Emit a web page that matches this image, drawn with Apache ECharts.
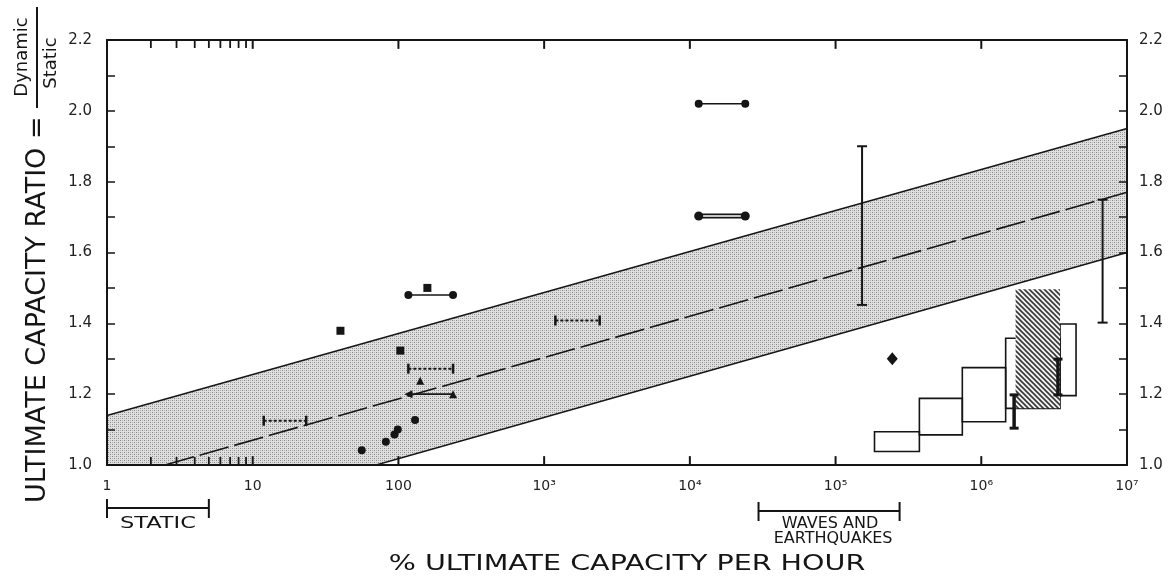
<!DOCTYPE html>
<html>
<head>
<meta charset="utf-8">
<script src="https://cdn.jsdelivr.net/npm/echarts@6/dist/echarts.min.js"></script>
<style>
  html, body { margin: 0; padding: 0; background: #fff; }
  #chart { width: 1175px; height: 582px; }
</style>
</head>
<body>
<div id="chart"></div>
<script>
// axis ticks and labels
var xMinorTicks = [2, 3, 4, 5, 6, 7, 8, 9]
var xMajorTicks = [10, 100, 1000, 1e4, 1e5, 1e6]
var xLabelValues = [1, 10, 100, 1000, 1e4, 1e5, 1e6, 1e7]
var xLabelText = ['1', '10', '100', '10³', '10⁴', '10⁵', '10⁶', '10⁷']
var yTickValues = [1.0, 1.1, 1.2, 1.3, 1.4, 1.5, 1.6, 1.7, 1.8, 1.9, 2.0, 2.1, 2.2]
var yBottom = 1.0
var yTop = 2.2

// shaded band and trend line
var bandX = [1, 1e7]
var bandUpper = [1.14, 1.95]
var bandLower = [0.785, 1.60]
var trendX = [2.5, 1e7]
var trendY = [1.0, 1.77]

// single points
var dots = [[56, 1.042], [82, 1.066], [94, 1.086], [99, 1.10], [130, 1.127]]
var squares = [[40, 1.379], [103, 1.323], [158, 1.50]]
var triangles = [[141, 1.238]]
var diamonds = [[245000, 1.30]]

// paired points [xFrom, xTo, y]
var circlePairs = [[117, 237, 1.48], [11500, 24000, 2.02]]
var doublePair = [11500, 24000, 1.703]
var trianglePair = [117, 237, 1.20]
var dottedRanges = [[11.9, 23.3, 1.125], [117, 237, 1.272], [1194, 2405, 1.408]]

// vertical ranges [x, yLow, yHigh]
var thinBars = [[152000, 1.452, 1.90], [6.8e6, 1.402, 1.749]]
var thickBars = [[1.68e6, 1.104, 1.198], [3.36e6, 1.198, 1.299]]

// open boxes and hatched block [xFrom, xTo, yLow, yHigh]
var boxes = [
  [1.85e5, 3.76e5, 1.038, 1.094],
  [3.76e5, 7.41e5, 1.085, 1.188],
  [7.41e5, 1.47e6, 1.122, 1.275],
  [1.47e6, 3.47e6, 1.16, 1.358],
  [3.47e6, 4.47e6, 1.196, 1.398]
]
var hatched = [[1.72e6, 3.47e6, 1.16, 1.496]]

// ranges under the x axis
var staticRange = [1, 5]
var wavesRange = [2.96e4, 2.75e5]

var ink = '#151515'
var font = 'DejaVu Sans'

function makeStipple () {
  var c = document.createElement('canvas')
  c.width = 4
  c.height = 4
  var g = c.getContext('2d')
  g.fillStyle = '#e0e0e0'
  g.fillRect(0, 0, 4, 4)
  g.fillStyle = '#858585'
  g.fillRect(0, 0, 1, 1)
  g.fillRect(2, 2, 1, 1)
  g.fillStyle = '#b0b0b0'
  g.fillRect(2, 0, 1, 1)
  g.fillRect(0, 2, 1, 1)
  return c
}

function makeHatch () {
  var c = document.createElement('canvas')
  c.width = 5
  c.height = 5
  var g = c.getContext('2d')
  g.fillStyle = '#f2f2f2'
  g.fillRect(0, 0, 5, 5)
  g.strokeStyle = '#383838'
  g.lineWidth = 1.6
  g.beginPath()
  g.moveTo(-1, -1); g.lineTo(6, 6)
  g.moveTo(-1, 4); g.lineTo(1, 6)
  g.moveTo(4, -1); g.lineTo(6, 1)
  g.stroke()
  return c
}

function rectItem (fill, stroke) {
  return function (params, api) {
    var p0 = api.coord([api.value(0), api.value(3)])
    var p1 = api.coord([api.value(1), api.value(2)])
    return {
      type: 'rect',
      shape: { x: p0[0], y: p0[1], width: p1[0] - p0[0], height: p1[1] - p0[1] },
      style: { fill: fill, stroke: stroke, lineWidth: 1.6 }
    }
  }
}

function pairLine (x0, x1, y) {
  return [[x0, y], [x1, y]]
}

var xAxisBase = {
  type: 'log',
  logBase: 10,
  min: 1,
  max: 1e7,
  z: 5,
  axisLine: { lineStyle: { color: ink, width: 2 } },
  axisTick: { show: false },
  minorTick: { show: false },
  splitLine: { show: false }
}

var yAxisBase = {
  type: 'value',
  min: yBottom,
  max: yTop,
  interval: 0.2,
  z: 5,
  axisLine: { show: true, lineStyle: { color: ink, width: 2 } },
  axisTick: { show: true, inside: true, length: 8, customValues: yTickValues, lineStyle: { color: ink, width: 1.5 } },
  splitLine: { show: false }
}

var stipple = makeStipple()
var series = []

// band fill between lower and upper edge
series.push({
  type: 'custom',
  data: bandX.map(function (x, i) { return [x, bandLower[i], bandUpper[i]] }),
  encode: { x: 0, y: [1, 2] },
  clip: true,
  renderItem: function (params, api) {
    if (params.dataIndex !== 0) return
    var pts = []
    bandX.forEach(function (x, i) { pts.push(api.coord([x, bandLower[i]])) })
    for (var i = bandX.length - 1; i >= 0; i--) pts.push(api.coord([bandX[i], bandUpper[i]]))
    return {
      type: 'polygon',
      shape: { points: pts },
      style: { fill: { image: stipple, repeat: 'repeat' } }
    }
  },
  z: 1
})
// band edges
series.push({
  type: 'line',
  data: bandX.map(function (x, i) { return [x, bandLower[i]] }),
  symbol: 'none',
  lineStyle: { color: ink, width: 1.5 },
  z: 2
})
series.push({
  type: 'line',
  data: bandX.map(function (x, i) { return [x, bandUpper[i]] }),
  symbol: 'none',
  lineStyle: { color: ink, width: 1.5 },
  z: 2
})
// trend line
series.push({
  type: 'line',
  data: trendX.map(function (x, i) { return [x, trendY[i]] }),
  symbol: 'none',
  lineStyle: { color: ink, width: 1.6, type: [30, 6] },
  z: 2
})

// decade ticks, top and bottom, as short vertical lines through the scale
xMajorTicks.forEach(function (v) {
  series.push({
    type: 'line',
    data: [[v, yBottom], [v, yBottom + 0.025]],
    symbol: 'none',
    lineStyle: { color: ink, width: 2 },
    clip: false,
    silent: true,
    z: 9
  })
  series.push({
    type: 'line',
    data: [[v, yTop], [v, yTop - 0.025]],
    symbol: 'none',
    lineStyle: { color: ink, width: 2 },
    clip: false,
    silent: true,
    z: 9
  })
})

// open boxes
series.push({
  type: 'custom',
  data: boxes,
  encode: { x: [0, 1], y: [2, 3] },
  renderItem: rectItem('none', ink),
  clip: true,
  z: 3
})
// hatched block
series.push({
  type: 'custom',
  data: hatched,
  encode: { x: [0, 1], y: [2, 3] },
  renderItem: rectItem({ image: makeHatch(), repeat: 'repeat' }, null),
  clip: true,
  z: 4
})

// vertical ranges
thinBars.forEach(function (b) {
  series.push({
    type: 'line',
    data: [[b[0], b[1]], [b[0], b[2]]],
    symbol: 'rect',
    symbolSize: [10, 2],
    itemStyle: { color: ink },
    lineStyle: { color: ink, width: 2 },
    z: 5
  })
})
thickBars.forEach(function (b) {
  series.push({
    type: 'line',
    data: [[b[0], b[1]], [b[0], b[2]]],
    symbol: 'rect',
    symbolSize: [9, 3],
    itemStyle: { color: ink },
    lineStyle: { color: ink, width: 3.5 },
    z: 5
  })
})

// dotted horizontal ranges with end caps
dottedRanges.forEach(function (r) {
  series.push({
    type: 'line',
    data: pairLine(r[0], r[1], r[2]),
    symbol: 'rect',
    symbolSize: [2.5, 10],
    itemStyle: { color: ink },
    lineStyle: { color: ink, width: 2, type: [3, 2] },
    z: 5
  })
})

// circle pairs
circlePairs.forEach(function (r) {
  series.push({
    type: 'line',
    data: pairLine(r[0], r[1], r[2]),
    symbol: 'circle',
    symbolSize: 8,
    itemStyle: { color: ink },
    lineStyle: { color: ink, width: 1.6 },
    z: 5
  })
})

// double line pair
series.push({
  type: 'line',
  data: pairLine(doublePair[0], doublePair[1], doublePair[2]),
  symbol: 'none',
  lineStyle: { color: ink, width: 5 },
  z: 5
})
series.push({
  type: 'line',
  data: pairLine(doublePair[0], doublePair[1], doublePair[2]),
  symbol: 'none',
  lineStyle: { color: '#fff', width: 1.6 },
  z: 6
})
series.push({
  type: 'scatter',
  data: pairLine(doublePair[0], doublePair[1], doublePair[2]),
  symbol: 'circle',
  symbolSize: 9,
  itemStyle: { color: ink, opacity: 1 },
  z: 7
})

// triangle pair
series.push({
  type: 'line',
  data: [
    { value: [trianglePair[0], trianglePair[2]], symbolRotate: 90 },
    { value: [trianglePair[1], trianglePair[2]] }
  ],
  symbol: 'triangle',
  symbolSize: 8,
  itemStyle: { color: ink },
  lineStyle: { color: ink, width: 1.6 },
  z: 5
})

// scattered points
var solid = { color: ink, opacity: 1 }
series.push({ type: 'scatter', data: dots, symbol: 'circle', symbolSize: 8, itemStyle: solid, z: 6 })
series.push({ type: 'scatter', data: squares, symbol: 'rect', symbolSize: 8, itemStyle: solid, z: 6 })
series.push({ type: 'scatter', data: triangles, symbol: 'triangle', symbolSize: 8, itemStyle: solid, z: 6 })
series.push({ type: 'scatter', data: diamonds, symbol: 'diamond', symbolSize: [11, 13], itemStyle: solid, z: 6 })

var option = {
  animation: false,
  backgroundColor: '#fff',
  grid: { left: 107, right: 48, top: 40, bottom: 117 },
  xAxis: [
    Object.assign({}, xAxisBase, {
      position: 'bottom',
      axisLabel: {
        customValues: xLabelValues,
        margin: 14,
        color: '#222',
        fontSize: 14,
        fontFamily: font,
        formatter: function (v) {
          var i = xLabelValues.indexOf(v)
          return i >= 0 ? xLabelText[i] : ''
        }
      }
    }),
    Object.assign({}, xAxisBase, {
      position: 'top',
      axisLabel: { show: false }
    })
  ],
  yAxis: [
    Object.assign({}, yAxisBase, {
      position: 'left',
      axisLabel: { margin: 15, color: '#222', fontSize: 15, fontFamily: font, formatter: function (v) { return v.toFixed(1) } }
    }),
    Object.assign({}, yAxisBase, {
      position: 'right',
      axisLabel: { margin: 12, color: '#222', fontSize: 15, fontFamily: font, formatter: function (v) { return v.toFixed(1) } }
    })
  ],
  series: series
}

var chart = echarts.init(document.getElementById('chart'))
chart.setOption(option)

// pixel positions from the chart's own scales
function px (v) { return chart.convertToPixel({ xAxisIndex: 0 }, v) }
function py (v) { return chart.convertToPixel({ yAxisIndex: 0 }, v) }

var sx0 = px(staticRange[0])
var sx1 = px(staticRange[1])
var wx0 = px(wavesRange[0])
var wx1 = px(wavesRange[1])
var yb = py(yBottom)
var yt = py(yTop)
var lineSt = { stroke: ink, lineWidth: 2 }

function bracket (x0, x1, y) {
  return [
    { type: 'line', shape: { x1: x0, y1: y, x2: x1, y2: y }, style: lineSt },
    { type: 'line', shape: { x1: x0, y1: y - 9, x2: x0, y2: y + 10 }, style: lineSt },
    { type: 'line', shape: { x1: x1, y1: y - 9, x2: x1, y2: y + 10 }, style: lineSt }
  ]
}

// minor ticks of the first decade, pointing inward
var tickGraphics = []
xMinorTicks.forEach(function (v) {
  var x = px(v)
  var st = { stroke: ink, lineWidth: 1.8 }
  tickGraphics.push({ type: 'line', z: 100, shape: { x1: x, y1: yb, x2: x, y2: yb - 8 }, style: st })
  tickGraphics.push({ type: 'line', z: 100, shape: { x1: x, y1: yt, x2: x, y2: yt + 8 }, style: st })
})

var graphics = [].concat(
  tickGraphics,
  bracket(sx0, sx1, 508),
  bracket(wx0, wx1, 511),
  [
    {
      type: 'text', x: (sx0 + sx1) / 2, y: 524, scaleX: 1.5,
      style: { text: 'STATIC', font: '15px ' + font, fill: ink, align: 'center', verticalAlign: 'middle' }
    },
    {
      type: 'text', x: (wx0 + wx1) / 2 + 1, y: 524,
      style: { text: 'WAVES AND', font: '16px ' + font, fill: ink, align: 'center', verticalAlign: 'middle' }
    },
    {
      type: 'text', x: (wx0 + wx1) / 2 + 4, y: 539,
      style: { text: 'EARTHQUAKES', font: '16px ' + font, fill: ink, align: 'center', verticalAlign: 'middle' }
    },
    {
      type: 'text', x: 627, y: 565, scaleX: 1.36,
      style: { text: '% ULTIMATE CAPACITY PER HOUR', font: '21px ' + font, fill: ink, align: 'center', verticalAlign: 'middle' }
    },
    {
      type: 'text', x: 38, y: 503, rotation: Math.PI / 2,
      style: { text: 'ULTIMATE CAPACITY RATIO =', font: '27px ' + font, fill: ink, align: 'left', verticalAlign: 'middle' }
    },
    {
      type: 'group', x: 37, y: 57, rotation: Math.PI / 2,
      children: [
        { type: 'text', x: 0, y: -15, style: { text: 'Dynamic', font: '18px ' + font, fill: ink, align: 'center', verticalAlign: 'middle' } },
        { type: 'line', shape: { x1: -51, y1: 0, x2: 50, y2: 0 }, style: { stroke: ink, lineWidth: 2 } },
        { type: 'text', x: -6, y: 14, style: { text: 'Static', font: '18px ' + font, fill: ink, align: 'center', verticalAlign: 'middle' } }
      ]
    }
  ]
)

chart.setOption({ graphic: graphics })
</script>
</body>
</html>
